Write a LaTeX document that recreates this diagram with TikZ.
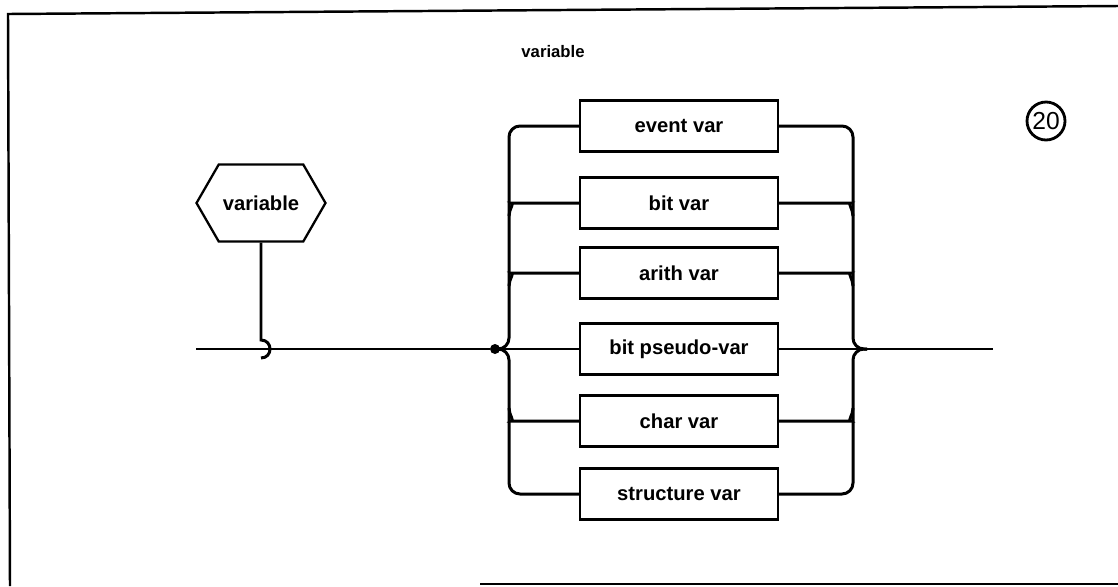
\documentclass[tikz,border=0pt]{standalone}
\usepackage{fontspec}
\setmainfont{Liberation Sans}
\usetikzlibrary{calc,shapes.symbols}

\tikzset{
  rail/.style={line width=1.7pt, rounded corners=0.22cm},
  hookline/.style={line width=1.7pt},
  mainline/.style={line width=1pt},
  varbox/.style={draw, line width=1.3pt, minimum width=3.96cm, minimum height=1.02cm, inner sep=0pt, font=\fontsize{11.5}{13}\selectfont\bfseries},
  hexbox/.style={draw, line width=1.3pt, signal, signal to=east and west, signal pointer angle=120, minimum width=2.58cm, minimum height=1.54cm, inner sep=0pt, font=\fontsize{11.5}{13}\selectfont\bfseries},
}

\begin{document}
\begin{tikzpicture}[x=0.02cm, y=-0.02cm]
		\useasboundingbox (0,0) rectangle (1118,586);
		\def\lbus{509} % x of the left rail
		\def\rbus{853} % x of the right rail
		\def\bend{13} % size of the branch curves
		
		% Frame of the page
		\draw[line width=1.4pt] (1118,6) -- (8,14) -- (10,586);
		\draw[line width=1pt] (480,584) -- (1118,584);
		
		% Title and number
		\node (title) at (553,52) {\fontsize{9.5}{11}\selectfont\bfseries variable};
		\node[draw, circle, line width=1.6pt, inner sep=1pt, minimum size=0.76cm] (num) at (1046,121) {\fontsize{14}{16}\selectfont 20};
		
		% The hexagon
		\node[hexbox] (hexvar) at (261,203) {variable};
		
		% The six boxes
		\foreach \name/\txt/\y in {evt/event var/126, bitv/bit var/203, arith/arith var/273, bitps/bit pseudo-var/349, charv/char var/421, strv/structure var/494} {
			\node[varbox] (\name) at (679,\y) {\txt};
		}
		
		% Ends of the main line
		\coordinate (start) at (196,349);
		\coordinate (exit) at (993,349);
		\coordinate (join) at (\rbus,349);
		\coordinate (hook) at (hexvar.south |- start);
		\node[circle, fill, inner sep=0pt, minimum size=0.2cm] (dot) at (495,349) {};
		
		% Main line
		\draw[mainline] (start) -- (dot) -- (bitps.west);
		\draw[mainline] (bitps.east) -- (exit);
		
		% Hexagon joins the main line
		\draw[hookline] (hexvar.south) -- ($(hook)+(0,-9)$) .. controls +(12,0) and +(12,0) .. ($(hook)+(0,9)$);
		
		% Left rail
		\draw[rail] (dot.center) -| (\lbus,126) -- (evt.west);
		\draw[rail] (dot.center) -| (\lbus,494) -- (strv.west);
		\foreach \name in {bitv, arith} {
			\draw[rail] ($(\lbus,0 |- \name.west)+(0,\bend)$) to[out=90, in=180] ($(\lbus,0 |- \name.west)+(\bend,0)$) -- (\name.west);
		}
		\draw[rail] ($(\lbus,0 |- charv.west)+(0,-\bend)$) to[out=-90, in=180] ($(\lbus,0 |- charv.west)+(\bend,0)$) -- (charv.west);
		
		% Right rail
		\draw[rail] (evt.east) -| (join) -- ($(join)+(14,0)$);
		\draw[rail] (strv.east) -| (join) -- ($(join)+(14,0)$);
		\foreach \name in {bitv, arith} {
			\draw[rail] (\name.east) -- ($(\rbus,0 |- \name.east)+(-\bend,0)$) to[out=0, in=90] ($(\rbus,0 |- \name.east)+(0,\bend)$);
		}
		\draw[rail] (charv.east) -- ($(\rbus,0 |- charv.east)+(-\bend,0)$) to[out=0, in=-90] ($(\rbus,0 |- charv.east)+(0,-\bend)$);
	\end{tikzpicture}
\end{document}
